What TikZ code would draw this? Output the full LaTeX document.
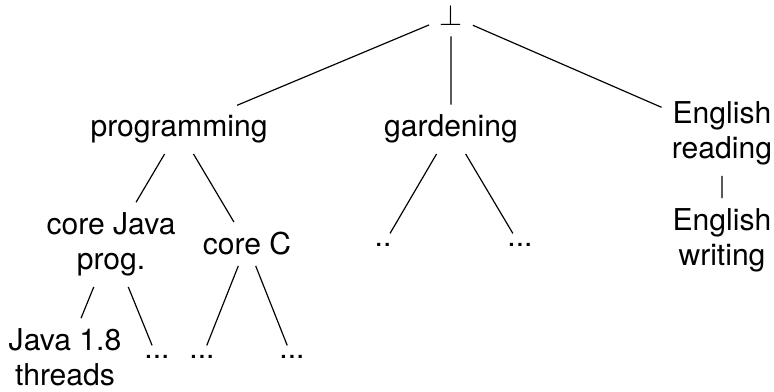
\documentclass[tikz,border=0pt]{standalone}
\usepackage{fontspec}
\setmainfont{TeX Gyre Heros}
\begin{document}
\begin{tikzpicture}[x=0.339pt,y=-0.339pt,
    every node/.style={align=center,anchor=base,font=\fontsize{10.2}{12}\selectfont},
    every path/.style={line width=0.4pt}]
  \useasboundingbox (0,0) rectangle (774,392);
  % top level
  \node (a) at (451,26) {$\bot$};
  \node (b) at (179,137) {programming};
  \node (c) at (451,137) {gardening};
  \node (d) at (722,159) {English\\reading};
  % second level
  \node (e) at (111,270) {core Java\\prog.};
  \node (f) at (247,255) {core C};
  \node (g) at (383,247) {..};
  \node (h) at (520,247) {...};
  \node (i) at (722,266) {English\\writing};
  % third level
  \node (j) at (65,386) {Java 1.8\\threads};
  \node (k) at (157,359) {...};
  \node (l) at (202,359) {...};
  \node (m) at (292,359) {...};
  \draw (a) -- (b) (a) -- (c) (a) -- (d);
  \draw (b) -- (e) (b) -- (f) (c) -- (g) (c) -- (h) (d) -- (i);
  \draw (e) -- (j) (e) -- (k) (f) -- (l) (f) -- (m);
\end{tikzpicture}
\end{document}
